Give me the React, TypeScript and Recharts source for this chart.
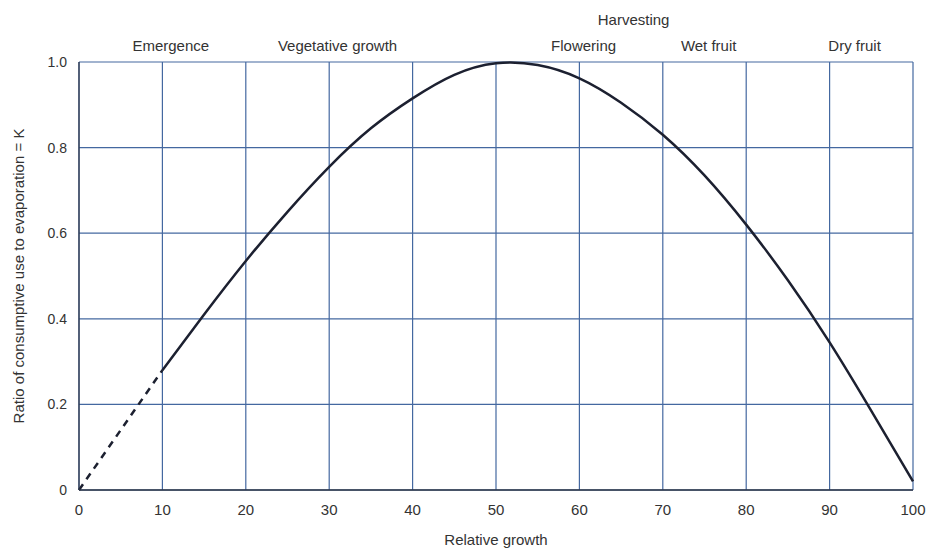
import { LineChart, Line, XAxis, YAxis, CartesianGrid, ReferenceDot } from 'recharts'

// relative growth (%) and the K ratio
const growth = [0, 10, 15, 20, 25, 30, 35, 40, 45, 50, 55, 60, 65, 70, 75, 80, 85, 90, 95, 100]
const kSolid = [null, 0.28, 0.41, 0.535, 0.65, 0.755, 0.845, 0.915, 0.97, 0.997, 0.993, 0.962, 0.905, 0.83, 0.735, 0.62, 0.49, 0.345, 0.185, 0.02]
// extrapolated part down to the origin
const kDashed = [0, 0.28, null, null, null, null, null, null, null, null, null, null, null, null, null, null, null, null, null, null]

const xTicks = [0, 10, 20, 30, 40, 50, 60, 70, 80, 90, 100]
const yTicks = [0, 0.2, 0.4, 0.6, 0.8, 1.0]

// crop stages written above the frame
const stageNames = ['Emergence', 'Vegetative growth', 'Flowering', 'Wet fruit', 'Dry fruit', 'Harvesting']
const stageAt = [11, 31, 60.5, 75.5, 93, 66.5]
const stageRow = [0, 0, 0, 0, 0, 1]

const data = growth.map((g, i) => ({ growth: g, solid: kSolid[i], dashed: kDashed[i] }))

const FONT = 'Liberation Sans, Arial, sans-serif'

export default function App() {
  return (
    <div style={{ fontFamily: FONT, background: '#fff' }}>
      <LineChart
        width={930}
        height={540}
        data={data}
        margin={{ top: 54, right: 25, bottom: 20, left: 31 }}
      >
        <CartesianGrid stroke="#4468a0" strokeWidth={1.2} horizontalValues={yTicks} verticalValues={xTicks} />
        <XAxis
          dataKey="growth"
          type="number"
          domain={[0, 100]}
          ticks={xTicks}
          tickLine={false}
          axisLine={{ stroke: '#2b3345', strokeWidth: 1.5 }}
          tick={{ fill: '#333', fontSize: 15, fontFamily: FONT }}
          tickMargin={8}
          height={38}
          label={{ value: 'Relative growth', position: 'insideBottom', offset: -17, fill: '#333', fontSize: 15, fontFamily: FONT }}
        />
        <YAxis
          type="number"
          domain={[0, 1]}
          ticks={yTicks}
          tickFormatter={(v: number) => (v === 0 ? '0' : v.toFixed(1))}
          tickLine={false}
          axisLine={{ stroke: '#2b3345', strokeWidth: 1.2 }}
          tick={{ fill: '#333', fontSize: 14, fontFamily: FONT }}
          width={40}
          tickMargin={6}
          label={{
            value: 'Ratio of consumptive use to evaporation = K',
            angle: -90,
            position: 'insideLeft',
            offset: -20,
            style: { textAnchor: 'middle' },
            fill: '#333',
            fontSize: 15,
            fontFamily: FONT,
          }}
        />
        <Line
          dataKey="dashed"
          stroke="#1c2030"
          strokeWidth={2.5}
          strokeDasharray="7 6"
          dot={false}
          isAnimationActive={false}
        />
        <Line
          dataKey="solid"
          type="natural"
          stroke="#1c2030"
          strokeWidth={2.5}
          dot={false}
          isAnimationActive={false}
        />
        {stageNames.map((name, i) => (
          <ReferenceDot
            key={name}
            x={stageAt[i]}
            y={1}
            r={0}
            fill="none"
            stroke="none"
            label={{
              value: name,
              position: 'top',
              offset: stageRow[i] ? 37 : 11,
              fill: '#333',
              fontSize: 15,
              fontFamily: FONT,
            }}
          />
        ))}
      </LineChart>
    </div>
  )
}
